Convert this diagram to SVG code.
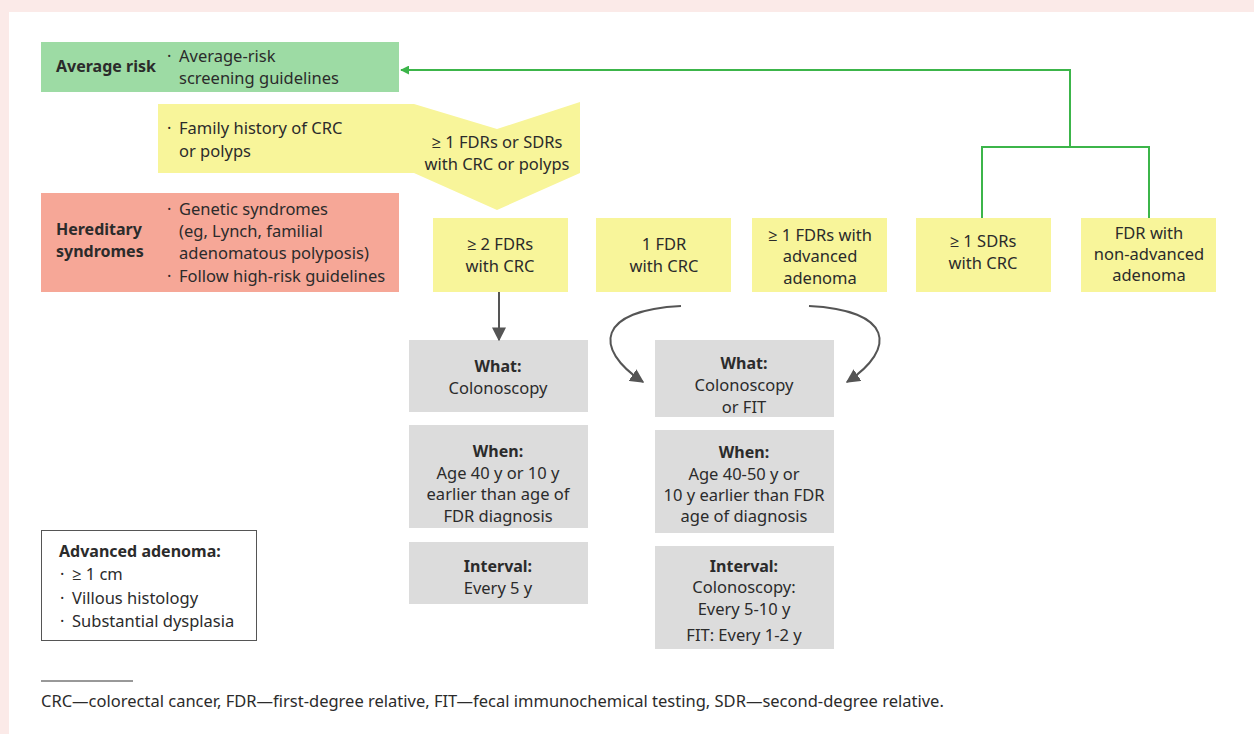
<svg xmlns="http://www.w3.org/2000/svg" width="1254" height="734" viewBox="0 0 1254 734">
<defs>
<style>
text{font-family:"Noto Sans","Open Sans","Liberation Sans",sans-serif;font-size:16.5px;fill:#2b2b2b}
.b{font-weight:bold;font-size:16px}
.c{text-anchor:middle}
.y{fill:#f8f59a}
.g{fill:#dcdcdc}
.gl{fill:none;stroke:#3cb54a;stroke-width:2}
.ar{fill:none;stroke:#555;stroke-width:2}
</style>
<marker id="mg" viewBox="0 0 10 10" refX="9" refY="5" markerWidth="9" markerHeight="9" markerUnits="userSpaceOnUse" orient="auto"><path d="M0,0L10,5L0,10z" fill="#3cb54a"/></marker>
<marker id="ma" viewBox="0 0 10 10" refX="9" refY="5" markerWidth="14" markerHeight="14" markerUnits="userSpaceOnUse" orient="auto"><path d="M0,0L10,5L0,10z" fill="#555"/></marker>
</defs>
<rect x="0" y="0" width="1254" height="734" fill="#fbeae8"/>
<rect x="9" y="12" width="1245" height="722" fill="#fff"/>

<g id="average-risk">
<rect x="41" y="42" width="358" height="50" fill="#9ddba4"/>
<text x="56" y="72" class="b">Average risk</text>
<text x="167" y="62">·</text>
<text x="179" y="62">Average-risk</text>
<text x="179" y="84">screening guidelines</text>
</g>

<g id="family-history">
<polygon class="y" points="158,104 414,104 497,129 580,102 580,173 497,210 414,173 158,173"/>
<text x="167" y="134">·</text>
<text x="179" y="134">Family history of CRC</text>
<text x="179" y="157">or polyps</text>
<text x="497" y="148" class="c">≥ 1 FDRs or SDRs</text>
<text x="497" y="170" class="c">with CRC or polyps</text>
</g>

<g id="hereditary">
<rect x="41" y="193" width="358" height="99" fill="#f6a797"/>
<text x="56" y="235" class="b">Hereditary</text>
<text x="56" y="257" class="b">syndromes</text>
<text x="167" y="215">·</text>
<text x="179" y="215">Genetic syndromes</text>
<text x="179" y="237">(eg, Lynch, familial</text>
<text x="179" y="259">adenomatous polyposis)</text>
<text x="167" y="282">·</text>
<text x="179" y="282">Follow high-risk guidelines</text>
</g>

<g id="two-fdrs">
<rect class="y" x="433" y="218" width="135" height="74"/>
<text x="500" y="250" class="c">≥ 2 FDRs</text>
<text x="500" y="272" class="c">with CRC</text>
</g>
<g id="one-fdr">
<rect class="y" x="596" y="218" width="135" height="74"/>
<text x="664" y="250" class="c">1 FDR</text>
<text x="664" y="272" class="c">with CRC</text>
</g>
<g id="fdr-advanced">
<rect class="y" x="752" y="218" width="135" height="74"/>
<text x="820" y="241" class="c">≥ 1 FDRs with</text>
<text x="820" y="262" class="c">advanced</text>
<text x="820" y="284" class="c">adenoma</text>
</g>
<g id="sdrs">
<rect class="y" x="916" y="218" width="135" height="74"/>
<text x="983" y="247" class="c">≥ 1 SDRs</text>
<text x="983" y="269" class="c">with CRC</text>
</g>
<g id="fdr-nonadvanced">
<rect class="y" x="1081" y="218" width="135" height="74"/>
<text x="1149" y="239" class="c">FDR with</text>
<text x="1149" y="260" class="c">non-advanced</text>
<text x="1149" y="281" class="c">adenoma</text>
</g>

<g id="left-what">
<rect class="g" x="409" y="340" width="179" height="72"/>
<text x="498" y="372" class="c b">What:</text>
<text x="498" y="394" class="c">Colonoscopy</text>
</g>
<g id="left-when">
<rect class="g" x="409" y="425" width="179" height="103"/>
<text x="498" y="457" class="c b">When:</text>
<text x="498" y="479" class="c">Age 40 y or 10 y</text>
<text x="498" y="500" class="c">earlier than age of</text>
<text x="498" y="522" class="c">FDR diagnosis</text>
</g>
<g id="left-interval">
<rect class="g" x="409" y="542" width="179" height="62"/>
<text x="498" y="572" class="c b">Interval:</text>
<text x="498" y="594" class="c">Every 5 y</text>
</g>

<g id="right-what">
<rect class="g" x="655" y="340" width="179" height="77"/>
<text x="744" y="369" class="c b">What:</text>
<text x="744" y="391" class="c">Colonoscopy</text>
<text x="744" y="413" class="c">or FIT</text>
</g>
<g id="right-when">
<rect class="g" x="655" y="430" width="179" height="103"/>
<text x="744" y="458" class="c b">When:</text>
<text x="744" y="480" class="c">Age 40-50 y or</text>
<text x="744" y="501" class="c">10 y earlier than FDR</text>
<text x="744" y="522" class="c">age of diagnosis</text>
</g>
<g id="right-interval">
<rect class="g" x="655" y="546" width="179" height="103"/>
<text x="744" y="572" class="c b">Interval:</text>
<text x="744" y="593" class="c">Colonoscopy:</text>
<text x="744" y="615" class="c">Every 5-10 y</text>
<text x="744" y="641" class="c">FIT: Every 1-2 y</text>
</g>

<g id="connectors">
<polyline class="gl" points="982,218 982,147 1149,147 1149,218"/>
<polyline class="gl" points="1070,147 1070,70 401,70" marker-end="url(#mg)"/>
<line class="ar" x1="499" y1="292" x2="499" y2="340" marker-end="url(#ma)"/>
<path class="ar" d="M681,306 C598,310 592,348 643,382" marker-end="url(#ma)"/>
<path class="ar" d="M809,306 C892,310 898,348 847,382" marker-end="url(#ma)"/>
</g>

<g id="legend">
<rect x="41.5" y="530.5" width="215" height="110" fill="#fff" stroke="#555" stroke-width="1"/>
<text x="59" y="557" class="b">Advanced adenoma:</text>
<text x="60" y="580">·</text><text x="72" y="580">≥ 1 cm</text>
<text x="60" y="604">·</text><text x="72" y="604">Villous histology</text>
<text x="60" y="627">·</text><text x="72" y="627">Substantial dysplasia</text>
</g>

<g id="footnote">
<line x1="41" y1="681" x2="133" y2="681" stroke="#333" stroke-width="1"/>
<text x="41" y="707">CRC—colorectal cancer, FDR—first-degree relative, FIT—fecal immunochemical testing, SDR—second-degree relative.</text>
</g>
</svg>
